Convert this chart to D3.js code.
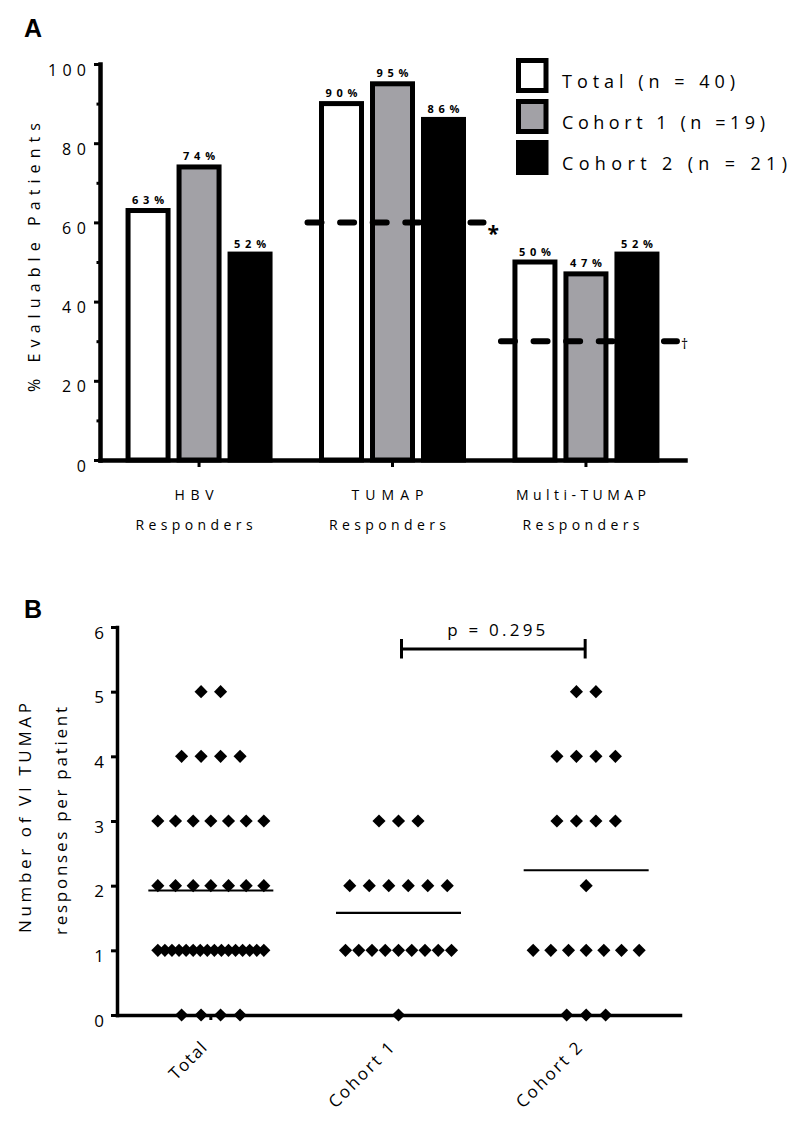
<!DOCTYPE html>
<html><head><meta charset="utf-8">
<script src="https://cdn.jsdelivr.net/npm/d3@7"></script>
<style>body{margin:0;background:#fff} svg{display:block}</style>
</head><body>
<svg id="chart" width="800" height="1124"></svg>
<script>
// ---------- Panel A data ----------
const groupsA = ["HBV", "TUMAP", "Multi-TUMAP"];
const groupLine2A = ["Responders", "Responders", "Responders"];
const seriesA = ["Total (n = 40)", "Cohort 1 (n =19)", "Cohort 2 (n = 21)"];
const totalPct = [63, 90, 50];
const cohort1Pct = [74, 95, 47];
const cohort2Pct = [52, 86, 52];
const seriesColors = ["#ffffff", "#a2a1a6", "#000000"];
const yTicksA = [0, 20, 40, 60, 80, 100];
const yMinorTicksA = [10, 30, 50, 70, 90];
const refGroups = ["TUMAP", "Multi-TUMAP"];
const refValues = [60, 30];
const refMarks = ["*", "\u2020"];

// ---------- Panel B data ----------
const groupsB = ["Total", "Cohort 1", "Cohort 2"];
const totalResponses = [5,5, 4,4,4,4, 3,3,3,3,3,3,3, 2,2,2,2,2,2,2,
  1,1,1,1,1,1,1,1,1,1,1,1,1,1,1,1, 0,0,0,0];
const cohort1Responses = [3,3,3, 2,2,2,2,2,2, 1,1,1,1,1,1,1,1,1, 0];
const cohort2Responses = [5,5, 4,4,4,4, 3,3,3,3, 2, 1,1,1,1,1,1,1, 0,0,0];
const yTicksB = [0, 1, 2, 3, 4, 5, 6];
const pLabel = "p = 0.295";

const FF = '"Open Sans", sans-serif';
const svg = d3.select("#chart");

// panel letters
svg.append("text").attr("x", 24).attr("y", 37).text("A")
  .attr("font-family", '"Liberation Sans", Arial, sans-serif').attr("font-weight", "bold").attr("font-size", 25);
svg.append("text").attr("x", 24).attr("y", 618).text("B")
  .attr("font-family", '"Liberation Sans", Arial, sans-serif').attr("font-weight", "bold").attr("font-size", 25);

// ================= Panel A =================
const yA = d3.scaleLinear().domain([0, 100]).range([460, 64]);
const xA = d3.scaleBand().domain(groupsA).range([100, 685]).paddingOuter(0.012);
const xSub = d3.scaleBand().domain(seriesA).range([-76.5, 76.5]);
const cxA = g => xA(g) + xA.bandwidth() / 2;
const valuesA = [totalPct, cohort1Pct, cohort2Pct];
const barW = 40;

const barData = [];
seriesA.forEach((s, i) => groupsA.forEach((g, j) =>
  barData.push({ s, g, v: valuesA[i][j], color: seriesColors[i] })));
const barX = d => cxA(d.g) + xSub(d.s) + xSub.bandwidth() / 2;

const gA = svg.append("g");
gA.selectAll("rect.bar").data(barData).join("rect").attr("class", "bar")
  .attr("x", d => barX(d) - barW / 2)
  .attr("y", d => yA(d.v))
  .attr("width", barW)
  .attr("height", d => yA(0) - yA(d.v))
  .attr("fill", d => d.color).attr("stroke", "#000").attr("stroke-width", 5);

gA.selectAll("text.blab").data(barData).join("text").attr("class", "blab")
  .attr("x", d => barX(d))
  .attr("y", d => yA(d.v) - 6.5)
  .attr("text-anchor", "middle")
  .attr("font-family", FF).attr("font-weight", "bold").attr("font-size", 11)
  .attr("textLength", 32).attr("lengthAdjust", "spacing")
  .text(d => d.v + "%");

// reference dashed lines
refGroups.forEach((g, i) => {
  const c = cxA(g), y = yA(refValues[i]);
  gA.append("line").attr("x1", c - 86).attr("x2", c + 91).attr("y1", y).attr("y2", y)
    .attr("stroke", "#000").attr("stroke-width", 6).attr("stroke-linecap", "round")
    .attr("stroke-dasharray", "14,18.6").attr("stroke-dashoffset", -1);
});
gA.append("text").attr("x", cxA(refGroups[0]) + 95).attr("y", yA(refValues[0]) + 19)
  .attr("font-family", FF).attr("font-weight", "bold").attr("font-size", 21).text(refMarks[0]);
gA.append("text").attr("x", cxA(refGroups[1]) + 95).attr("y", yA(refValues[1]) + 8)
  .attr("font-family", FF).attr("font-size", 14).text(refMarks[1]);

// axes A
const axYA = gA.append("g").attr("transform", "translate(100,0)")
  .call(d3.axisLeft(yA).tickValues(yTicksA).tickSize(6).tickPadding(8).tickSizeOuter(0));
axYA.select(".domain").attr("stroke-width", 4.5).attr("stroke-linecap", "square");
axYA.selectAll(".tick line").attr("stroke-width", 3);
axYA.selectAll(".tick text").attr("font-family", FF).attr("font-size", 16)
  .attr("dy", 0).attr("y", 11).attr("fill", "#000")
  .each(function (d) {
    const n = String(d).length;
    if (n > 1) d3.select(this).attr("textLength", n === 3 ? 38 : 24).attr("lengthAdjust", "spacing");
  });
const axYAm = gA.append("g").attr("transform", "translate(100,0)")
  .call(d3.axisLeft(yA).tickValues(yMinorTicksA).tickSize(3.5).tickFormat("").tickSizeOuter(0));
axYAm.select(".domain").remove();
axYAm.selectAll(".tick line").attr("stroke-width", 3);

const axXA = gA.append("g").attr("transform", "translate(0,460)")
  .call(d3.axisBottom(xA).tickSize(7).tickFormat("").tickSizeOuter(0));
axXA.select(".domain").attr("stroke-width", 4.5).attr("stroke-linecap", "square");
axXA.selectAll(".tick line").attr("stroke-width", 3);

const lenLine1 = { "HBV": 39, "TUMAP": 72, "Multi-TUMAP": 130 };
groupsA.forEach((g, i) => {
  gA.append("text").attr("x", cxA(g) - 5).attr("y", 500).attr("text-anchor", "middle")
    .attr("font-family", FF).attr("font-size", 14)
    .attr("textLength", lenLine1[g]).attr("lengthAdjust", "spacing").text(g);
  gA.append("text").attr("x", cxA(g) - 5).attr("y", 530).attr("text-anchor", "middle")
    .attr("font-family", FF).attr("font-size", 14)
    .attr("textLength", 117).attr("lengthAdjust", "spacing").text(groupLine2A[i]);
});

gA.append("text").attr("transform", "translate(40,257.5) rotate(-90)")
  .attr("text-anchor", "middle").attr("font-family", FF).attr("font-size", 16)
  .attr("textLength", 269).attr("lengthAdjust", "spacing").text("% Evaluable Patients");

// legend
const legLen = [173, 203, 225];
const leg = gA.selectAll("g.leg").data(seriesA).join("g").attr("class", "leg")
  .attr("transform", (d, i) => `translate(518.5,${60.5 + i * 41})`);
leg.append("rect").attr("width", 27.5).attr("height", 30)
  .attr("fill", (d, i) => seriesColors[i]).attr("stroke", "#000").attr("stroke-width", 5);
leg.append("text").attr("x", 43.5).attr("y", 27).attr("font-family", FF).attr("font-size", 18)
  .attr("textLength", (d, i) => legLen[i]).attr("lengthAdjust", "spacing").text(d => d);

// ================= Panel B =================
const yB = d3.scaleLinear().domain([0, 6]).range([1015, 627]);
const xB = d3.scaleBand().domain(groupsB).range([117, 680]);
const cxB = g => xB(g) + xB.bandwidth() / 2;
const respB = [totalResponses, cohort1Responses, cohort2Responses];

const gB = svg.append("g");
const maxSp = 19.5, spanW = 106, meanHalf = 62.5;

const pts = [];
groupsB.forEach((g, gi) => {
  const byVal = d3.group(respB[gi], v => v);
  byVal.forEach((arr, v) => {
    const n = arr.length;
    const sp = n > 1 ? Math.min(maxSp, spanW / (n - 1)) : 0;
    arr.forEach((_, k) => pts.push({ g, v, off: (k - (n - 1) / 2) * sp }));
  });
});

// axes B
const axYB = gB.append("g").attr("transform", "translate(117,0)")
  .call(d3.axisLeft(yB).tickValues(yTicksB).tickFormat(d3.format("d"))
    .tickSize(6).tickPadding(7).tickSizeOuter(0));
axYB.select(".domain").attr("stroke-width", 3.5).attr("stroke-linecap", "square");
axYB.selectAll(".tick line").attr("stroke-width", 3);
axYB.selectAll(".tick text").attr("font-family", FF).attr("font-size", 17)
  .attr("dy", 0).attr("y", 11).attr("fill", "#000");

const axXB = gB.append("g").attr("transform", "translate(0,1015)")
  .call(d3.axisBottom(xB).tickSize(5).tickFormat("").tickSizeOuter(0));
axXB.select(".domain").attr("stroke-width", 3.5).attr("stroke-linecap", "square");
axXB.selectAll(".tick line").attr("stroke-width", 3);

const xLabLen = { "Total": 45, "Cohort 1": 85, "Cohort 2": 85 };
groupsB.forEach(g => {
  gB.append("text").attr("transform", `translate(${cxB(g) - 3},1049) rotate(-45)`)
    .attr("text-anchor", "end").attr("font-family", FF).attr("font-size", 17)
    .attr("textLength", xLabLen[g]).attr("lengthAdjust", "spacing").text(g);
});

// mean lines
groupsB.forEach((g, gi) => {
  const m = d3.mean(respB[gi]);
  gB.append("line").attr("x1", cxB(g) - meanHalf).attr("x2", cxB(g) + meanHalf)
    .attr("y1", yB(m)).attr("y2", yB(m)).attr("stroke", "#000").attr("stroke-width", 2.2);
});

// diamonds
const sym = d3.symbol(d3.symbolSquare, 86);
gB.selectAll("path.pt").data(pts).join("path").attr("class", "pt")
  .attr("d", sym())
  .attr("transform", d => `translate(${cxB(d.g) + d.off},${yB(d.v)}) rotate(45)`)
  .attr("fill", "#000");

// y label B
gB.append("text").attr("transform", "translate(31,818) rotate(-90)")
  .attr("text-anchor", "middle").attr("font-family", FF).attr("font-size", 17)
  .attr("textLength", 230).attr("lengthAdjust", "spacing").text("Number of VI TUMAP");
gB.append("text").attr("transform", "translate(67,821) rotate(-90)")
  .attr("text-anchor", "middle").attr("font-family", FF).attr("font-size", 17)
  .attr("textLength", 228).attr("lengthAdjust", "spacing").text("responses per patient");

// p-value bracket
const bx1 = cxB("Cohort 1") + 3, bx2 = cxB("Cohort 2") - 1, by = 649;
gB.append("line").attr("x1", bx1).attr("x2", bx2).attr("y1", by).attr("y2", by)
  .attr("stroke", "#000").attr("stroke-width", 3);
[bx1, bx2].forEach(x => gB.append("line").attr("x1", x).attr("x2", x)
  .attr("y1", by - 10).attr("y2", by + 9.5).attr("stroke", "#000").attr("stroke-width", 3));
gB.append("text").attr("x", (bx1 + bx2) / 2 + 3).attr("y", 636).attr("text-anchor", "middle")
  .attr("font-family", FF).attr("font-size", 17)
  .attr("textLength", 98).attr("lengthAdjust", "spacing").text(pLabel);
</script>
</body></html>
